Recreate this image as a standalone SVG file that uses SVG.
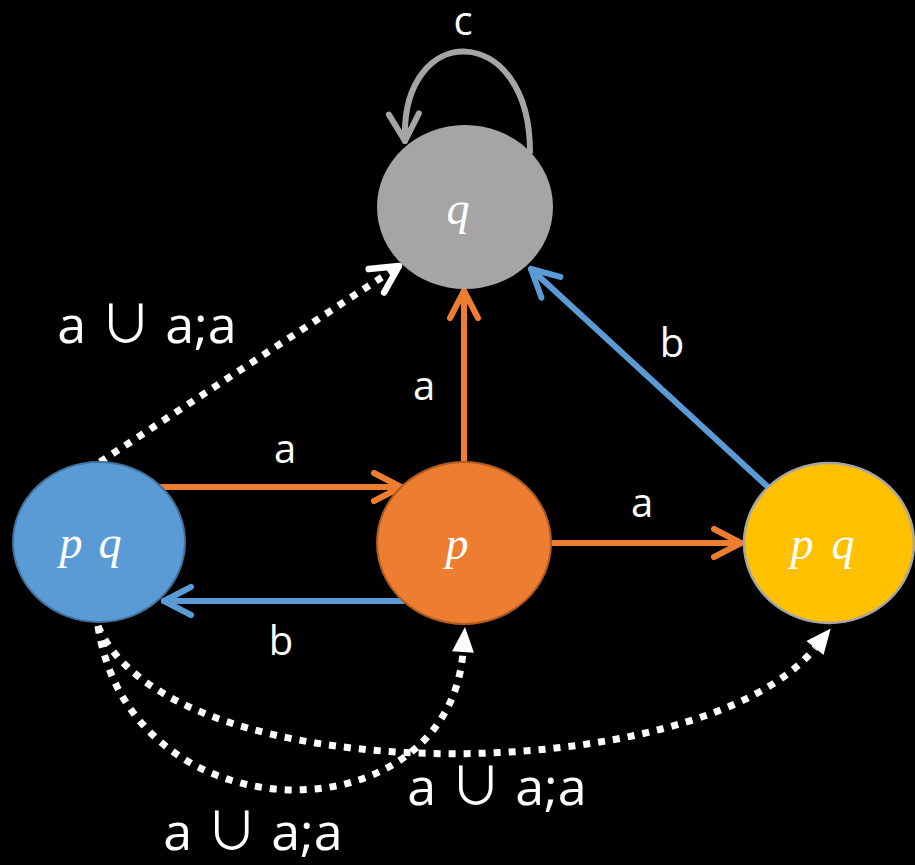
<svg xmlns="http://www.w3.org/2000/svg" width="915" height="865" viewBox="0 0 915 865">
<style>
.lbl{font-family:"Open Sans","DejaVu Sans",sans-serif;fill:#fff;text-anchor:middle}
.s{font-size:40px}
.big{font-size:52px}
.u{font-family:"Noto Sans CJK JP","DejaVu Sans",sans-serif;font-size:52px}
.nd{font-family:"Liberation Serif","DejaVu Serif",serif;font-style:italic;font-size:46px;fill:#fff;text-anchor:middle}
.ln{fill:none;stroke-width:6;stroke-linecap:round}
.dot{fill:none;stroke:#fff;stroke-width:7;stroke-dasharray:7 8}
</style>
<defs>
<marker id="chO" markerUnits="userSpaceOnUse" orient="auto" refX="0" refY="0" markerWidth="40" markerHeight="40" viewBox="-32 -20 40 40" overflow="visible"><path d="M-27,-14 L0,0 L-27,14" fill="none" stroke="#ED7D31" stroke-width="6" stroke-linecap="round" stroke-linejoin="round"/></marker>
<marker id="chB" markerUnits="userSpaceOnUse" orient="auto" refX="0" refY="0" markerWidth="40" markerHeight="40" viewBox="-32 -20 40 40" overflow="visible"><path d="M-27,-14 L0,0 L-27,14" fill="none" stroke="#5B9BD5" stroke-width="6" stroke-linecap="round" stroke-linejoin="round"/></marker>
<marker id="chG" markerUnits="userSpaceOnUse" orient="auto" refX="0" refY="0" markerWidth="40" markerHeight="40" viewBox="-32 -20 40 40" overflow="visible"><path d="M-27,-15 L0,0 L-27,15" fill="none" stroke="#A5A5A5" stroke-width="6" stroke-linecap="round" stroke-linejoin="round"/></marker>
<marker id="chW" markerUnits="userSpaceOnUse" orient="auto" refX="0" refY="0" markerWidth="40" markerHeight="40" viewBox="-32 -20 40 40" overflow="visible"><path d="M-27,-14 L0,0 L-27,14" fill="none" stroke="#fff" stroke-width="6.5" stroke-linecap="round" stroke-linejoin="round"/></marker>
<marker id="triW" markerUnits="userSpaceOnUse" orient="auto" refX="0" refY="0" markerWidth="40" markerHeight="40" viewBox="-5 -20 40 40" overflow="visible"><path d="M0,-11 L25,0 L0,11 Z" fill="#fff"/></marker>
</defs>
<rect width="915" height="865" fill="#000"/>
<g id="connectors">
<path class="ln" stroke="#A5A5A5" d="M530,152 C530,20 400,20 405,141" marker-end="url(#chG)"/>
<path class="ln" stroke="#ED7D31" d="M464,462 L464,291" marker-end="url(#chO)"/>
<path class="ln" stroke="#5B9BD5" d="M768,487 L531,269" marker-end="url(#chB)"/>
<path class="ln" stroke="#ED7D31" d="M160,487 L401,487" marker-end="url(#chO)"/>
<path class="ln" stroke="#ED7D31" d="M552,543 L741,543" marker-end="url(#chO)"/>
<path class="ln" stroke="#5B9BD5" d="M403,601 L164,601" marker-end="url(#chB)"/>
<path class="dot" d="M100,462 L399,266" marker-end="url(#chW)"/>
<path class="dot" d="M98,626 C130,840 448,840 463,652" marker-end="url(#triW)"/>
<path class="dot" d="M98,626 C170,795 700,790 815,648" marker-end="url(#triW)"/>
</g>
<g id="node-q">
<ellipse cx="465" cy="207" rx="88" ry="82" fill="#A5A5A5"/>
<text class="nd" x="458" y="224">q</text>
</g>
<g id="node-pq-blue">
<ellipse cx="99" cy="542" rx="86" ry="80" fill="#5B9BD5" stroke="#41719C" stroke-width="2"/>
<text class="nd" y="558"><tspan x="71">p</tspan><tspan x="110">q</tspan></text>
</g>
<g id="node-p">
<ellipse cx="464" cy="543" rx="87" ry="81" fill="#ED7D31" stroke="#AE5A21" stroke-width="2"/>
<text class="nd" x="457" y="559">p</text>
</g>
<g id="node-pq-yellow">
<ellipse cx="829" cy="543" rx="85" ry="80" fill="#FFC000" stroke="#A5A5A5" stroke-width="2.5"/>
<text class="nd" y="559"><tspan x="802">p</tspan><tspan x="843">q</tspan></text>
</g>
<g id="labels">
<text class="lbl s" x="463" y="35">c</text>
<text class="lbl big" x="147" y="343">a <tspan class="u">∪</tspan> a;a</text>
<text class="lbl s" x="424" y="400">a</text>
<text class="lbl s" x="672" y="357">b</text>
<text class="lbl s" x="285" y="463">a</text>
<text class="lbl s" x="642" y="517">a</text>
<text class="lbl s" x="281" y="655">b</text>
<text class="lbl big" x="497" y="805">a <tspan class="u">∪</tspan> a;a</text>
<text class="lbl big" x="253" y="850">a <tspan class="u">∪</tspan> a;a</text>
</g>
</svg>
